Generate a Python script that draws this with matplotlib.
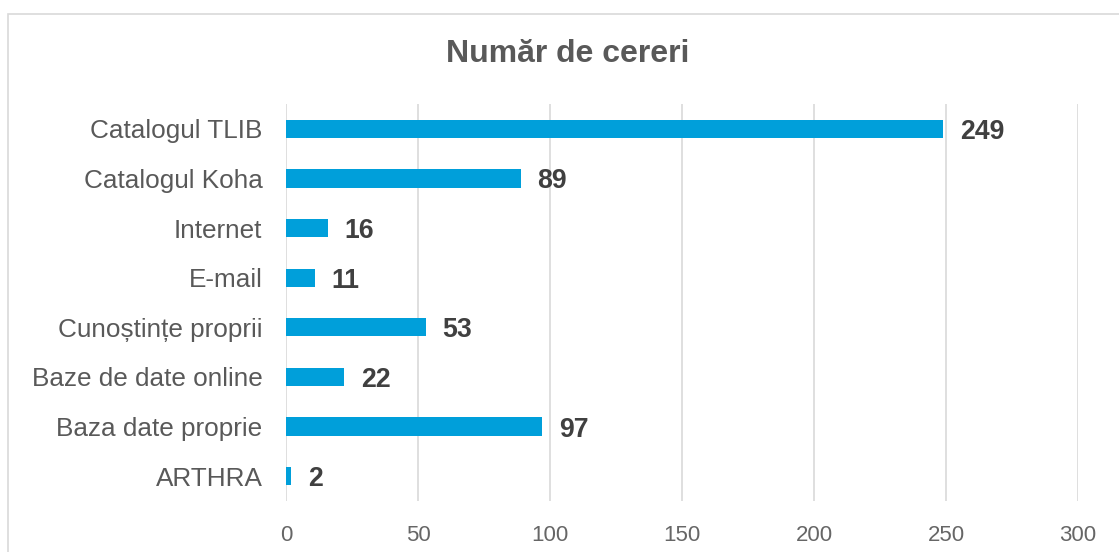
import matplotlib
matplotlib.use("Agg")
import matplotlib.pyplot as plt
from matplotlib.patches import Rectangle

categories = ["Catalogul TLIB", "Catalogul Koha", "Internet", "E-mail",
              "Cunoștințe proprii", "Baze de date online", "Baza date proprie", "ARTHRA"]
values = [249, 89, 16, 11, 53, 22, 97, 2]
xticks = [0, 50, 100, 150, 200, 250, 300]
title = "Număr de cereri"

plt.rcParams['font.family'] = ['Liberation Sans', 'DejaVu Sans']

fig = plt.figure(figsize=(11.19, 5.52), dpi=100)
fig.patches.append(Rectangle((8/1119, -0.1), 1.2, 1 - 14/552 + 0.1, transform=fig.transFigure,
                             fill=False, edgecolor='#d9d9d9', linewidth=1.2))
ax = fig.add_axes([286/1119, 1 - 501/552, (1078 - 286)/1119, (501 - 104)/552])

y = list(range(len(categories)))
ax.barh(y, values, height=0.37, color='#009fda', zorder=3)
ax.set_ylim(len(categories) - 0.5, -0.5)
ax.set_xlim(0, 300)
ax.set_xticks(xticks)
ax.set_yticks(y)
ax.set_yticklabels(categories, fontsize=18.8, color='#595959')
ax.set_xticklabels([str(t) for t in xticks], fontsize=16, color='#666666')
ax.tick_params(axis='both', length=0)
ax.tick_params(axis='y', pad=17)
ax.tick_params(axis='x', pad=17.5)
ax.grid(axis='x', color='#d9d9d9', linewidth=1.2, zorder=0)
for s in ax.spines.values():
    s.set_visible(False)

for yi, v in zip(y, values):
    ax.text(v + 6.3, yi, str(v), va='center_baseline', ha='left', fontsize=19.2,
            fontweight='bold', color='#404040')

fig.text(567.5/1119, 1 - 62.3/552, title, ha='center', va='baseline', fontsize=23,
         fontweight='bold', color='#595959')

fig.savefig("out.png", dpi=100)
